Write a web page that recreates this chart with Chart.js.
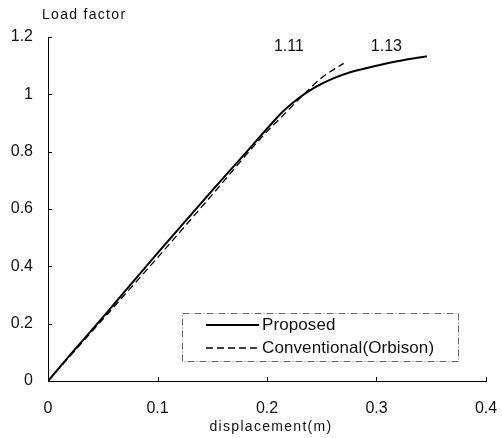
<!DOCTYPE html>
<html>
<head>
<meta charset="utf-8">
<script src="https://cdn.jsdelivr.net/npm/chart.js@4/dist/chart.umd.min.js"></script>
<style>
  body { margin: 0; background: #fff; }
  #wrap { width: 502px; height: 438px; position: relative; }
</style>
</head>
<body>
<div id="wrap"><canvas id="load-factor-chart"></canvas></div>
<script>
// displacement (m) vs load factor
var proposedX = [0, 0.02, 0.05, 0.10, 0.15, 0.183, 0.20, 0.215, 0.23, 0.245, 0.26, 0.276, 0.30, 0.32, 0.346];
var proposedY = [0, 0.09, 0.222, 0.446, 0.665, 0.806, 0.88, 0.942, 0.99, 1.027, 1.055, 1.077, 1.10, 1.116, 1.133];
var orbisonX = [0, 0.05, 0.10, 0.15, 0.197, 0.212, 0.23, 0.251, 0.27];
var orbisonY = [0, 0.215, 0.43, 0.65, 0.858, 0.916, 0.986, 1.061, 1.108];
var seriesNames = ['Proposed', 'Conventional(Orbison)'];
var peakLabels = ['1.11', '1.13'];
var peakAt = [[0.22, 1.165], [0.309, 1.165]];
var xTicks = [0, 0.1, 0.2, 0.3, 0.4];
var yTicks = [0, 0.2, 0.4, 0.6, 0.8, 1, 1.2];

function toPoints(xs, ys) {
  var pts = [];
  for (var i = 0; i < xs.length; i++) pts.push({x: xs[i], y: ys[i]});
  return pts;
}

var FONT = '"Liberation Sans", Arial, sans-serif';

// inward tick marks, titles, peak labels and the boxed legend
var extras = {
  id: 'extras',
  afterDraw: function (chart) {
    var ctx = chart.ctx, xs = chart.scales.x, ys = chart.scales.y, area = chart.chartArea;
    ctx.save();
    ctx.strokeStyle = '#000';
    ctx.lineWidth = 1;
    ctx.beginPath();
    yTicks.forEach(function (v) {
      if (v === 0) return;
      var py = Math.round(ys.getPixelForValue(v)) + 0.5;
      ctx.moveTo(area.left, py); ctx.lineTo(area.left + 4, py);
    });
    xTicks.forEach(function (v) {
      if (v === 0) return;
      var px = Math.round(xs.getPixelForValue(v)) + 0.5;
      ctx.moveTo(px, area.bottom); ctx.lineTo(px, area.bottom - 4);
    });
    ctx.stroke();

    ctx.fillStyle = '#111';
    ctx.textBaseline = 'middle';
    ctx.letterSpacing = '1.3px';
    ctx.font = '14px ' + FONT;
    ctx.textAlign = 'left';
    ctx.fillText('Load factor', 42, 15);
    ctx.textAlign = 'center';
    ctx.fillText('displacement(m)', 271, 427);
    ctx.letterSpacing = '0px';

    ctx.font = '16px ' + FONT;
    peakLabels.forEach(function (t, i) {
      ctx.fillText(t, xs.getPixelForValue(peakAt[i][0]), ys.getPixelForValue(peakAt[i][1]));
    });

    // legend box
    var bx = 182, by = 313, bw = 276, bh = 48;
    ctx.strokeStyle = '#666';
    ctx.lineWidth = 1;
    ctx.setLineDash([7, 2, 1, 2]);
    ctx.strokeRect(bx + 0.5, by + 0.5, bw, bh);
    ctx.setLineDash([]);
    var rows = [325, 348];
    ctx.textAlign = 'left';
    ctx.font = '17px ' + FONT;
    ctx.letterSpacing = '0.1px';
    chart.data.datasets.forEach(function (ds, i) {
      ctx.strokeStyle = '#000';
      ctx.lineWidth = ds.borderWidth;
      ctx.setLineDash(ds.borderDash || []);
      ctx.beginPath();
      ctx.moveTo(206, rows[i]); ctx.lineTo(259, rows[i]);
      ctx.stroke();
      ctx.setLineDash([]);
      ctx.fillText(ds.label, 262, rows[i]);
    });
    ctx.restore();
  }
};

new Chart(document.getElementById('load-factor-chart'), {
  type: 'scatter',
  data: {
    datasets: [
      {
        label: seriesNames[0],
        data: toPoints(proposedX, proposedY),
        showLine: true,
        borderColor: '#000',
        borderWidth: 2,
        pointRadius: 0,
        cubicInterpolationMode: 'monotone'
      },
      {
        label: seriesNames[1],
        data: toPoints(orbisonX, orbisonY),
        showLine: true,
        borderColor: '#000',
        borderWidth: 1.3,
        borderDash: [7, 4],
        pointRadius: 0,
        cubicInterpolationMode: 'monotone'
      }
    ]
  },
  options: {
    responsive: true,
    maintainAspectRatio: false,
    animation: false,
    layout: { padding: { left: 0, top: 37, right: 16, bottom: 0 } },
    plugins: { legend: { display: false }, tooltip: { enabled: false } },
    scales: {
      x: {
        type: 'linear',
        min: 0, max: 0.4,
        afterBuildTicks: function (s) { s.ticks = xTicks.map(function (v) { return {value: v}; }); },
        afterFit: function (s) { s.height = 57; s.paddingLeft = 0; s.paddingRight = 0; },
        grid: { display: false, drawTicks: false },
        border: { display: true, color: '#000', width: 1 },
        ticks: {
          padding: 18,
          color: '#111',
          font: { family: FONT, size: 16 },
          maxRotation: 0,
          callback: function (v) { return String(Number(v.toFixed(1))); }
        }
      },
      y: {
        type: 'linear',
        min: 0, max: 1.2,
        afterBuildTicks: function (s) { s.ticks = yTicks.map(function (v) { return {value: v}; }); },
        afterFit: function (s) { s.width = 48; s.paddingTop = 0; s.paddingBottom = 0; },
        grid: { display: false, drawTicks: false },
        border: { display: true, color: '#000', width: 1 },
        ticks: {
          padding: 15,
          color: '#111',
          font: { family: FONT, size: 16 },
          callback: function (v) { return String(Number(v.toFixed(1))); }
        }
      }
    }
  },
  plugins: [extras]
});
</script>
</body>
</html>
